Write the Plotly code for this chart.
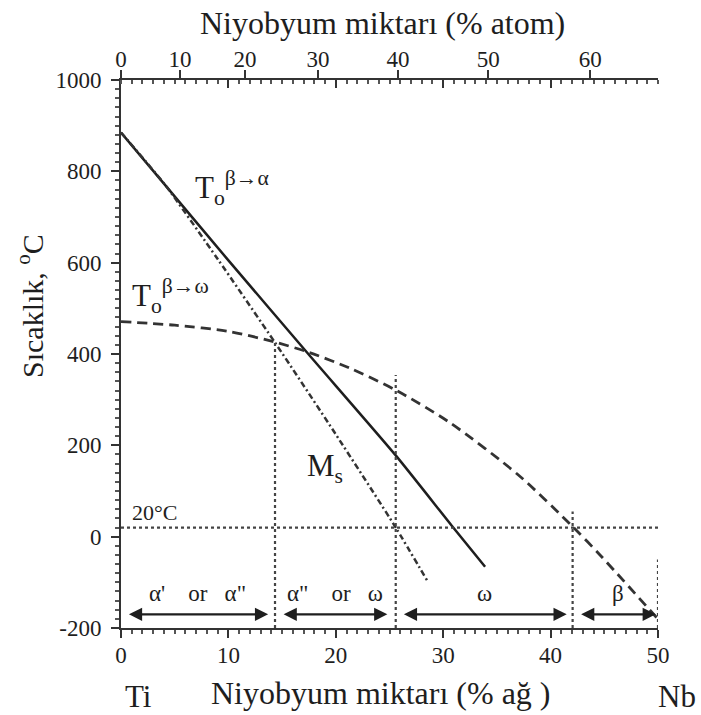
import plotly.graph_objects as go

# ---------------- data (wt% Nb on x, temperature °C on y) ----------------
solid_x = [0, 4.25, 10, 17.44, 25.58, 30.8, 33.9]          # T0 beta->alpha
solid_y = [885, 766, 605, 400, 178, 24, -66]

ms_x = [0, 2, 4.25, 9, 14.34, 20, 25.58, 28.6]                 # Ms
ms_y = [885, 830, 766, 608, 425, 224, 20, -100]

omega_x = [0, 5, 10.15, 14.34, 17.44, 21.3, 25.58, 30.6, 37, 42.05, 44.6, 49.9]   # T0 beta->omega
omega_y = [471, 463, 449, 426, 404, 369, 321, 250, 135, 22, -40, -178]

boundary_x = [14.34, 25.58, 42.05]
boundary_top = [425, 354, 55]
room_temp = 20

region_start = [0.6, 15.0, 26.2, 42.7]
region_end = [13.7, 24.8, 41.5, 49.8]
region_labels = ["α'&nbsp;&nbsp;&nbsp; or &nbsp;&nbsp;α\"", "α\"&nbsp;&nbsp;&nbsp; or &nbsp;&nbsp;ω", "ω", "β"]
arrow_T = -170

wt_ticks = [0, 10, 20, 30, 40, 50]
wt_tick_text = ["0", "10", "20", "30", "40", "50"]
atom_tick_pos = [0, 5.49, 11.55, 18.34, 25.8, 34.2, 43.7]
atom_tick_text = ["0", "10", "20", "30", "40", "50", "60"]
temp_ticks = [-200, 0, 200, 400, 600, 800, 1000]
temp_tick_text = ["-200", "0", "200", "400", "600", "800", "1000"]

# ---------------- layout geometry ----------------
W, H = 701, 715
L, R, T, B = 121, 43, 80, 87
pw, ph = W - L - R, H - T - B
def pxx(x):
    return (x - L) / pw
def pyy(y):
    return (H - B - y) / ph

INK = "#1e1e1e"
FONT = "Liberation Serif, Times New Roman, serif"

fig = go.Figure()

fig.add_trace(go.Scatter(x=solid_x, y=solid_y, mode="lines",
                         line=dict(color=INK, width=2.5, shape="spline", smoothing=0.6)))
fig.add_trace(go.Scatter(x=ms_x, y=ms_y, mode="lines",
                         line=dict(color="#333", width=2.5, dash="6px,3px,2px,3px",
                                   shape="spline", smoothing=0.6)))
fig.add_trace(go.Scatter(x=omega_x, y=omega_y, mode="lines",
                         line=dict(color="#333", width=2.8, dash="10px,6px",
                                   shape="spline", smoothing=0.8)))

# dotted boundaries
for bx, bt in zip(boundary_x, boundary_top):
    fig.add_trace(go.Scatter(x=[bx, bx], y=[-200, bt], mode="lines",
                             line=dict(color="#444", width=2.2, dash="dot")))
fig.add_trace(go.Scatter(x=[0, 50], y=[room_temp, room_temp], mode="lines",
                         line=dict(color="#444", width=2.2, dash="dot")))
# short right edge
fig.add_trace(go.Scatter(x=[50, 50], y=[-200, -50], mode="lines",
                         line=dict(color="#444", width=2.2, dash="dot")))

# invisible traces to activate top axes
fig.add_trace(go.Scatter(x=[0, 50], y=[0, 0], xaxis="x2", mode="lines",
                         line=dict(width=0), hoverinfo="skip", opacity=0))
fig.add_trace(go.Scatter(x=[0, 50], y=[0, 0], xaxis="x3", mode="lines",
                         line=dict(width=0), hoverinfo="skip", opacity=0))

def txt(x, y, text, size, ref="data", angle=0, xanchor="center"):
    d = dict(x=x, y=y, text=text, showarrow=False, xanchor=xanchor, yanchor="middle",
             font=dict(family=FONT, size=size, color=INK), textangle=angle)
    if ref == "data":
        d.update(xref="x", yref="y")
    else:
        d.update(xref="paper", yref="paper")
    return d

ann = []
# double arrows and their labels
for s, e, lab in zip(region_start, region_end, region_labels):
    ann.append(dict(x=e, y=arrow_T, ax=s, ay=arrow_T, xref="x", yref="y",
                    axref="x", ayref="y", text="", showarrow=True,
                    arrowhead=2, startarrowhead=2, arrowside="end+start",
                    arrowsize=1.2, startarrowsize=1.2, arrowwidth=2.2, arrowcolor=INK))
    ann.append(txt((s + e) / 2, -125, lab, 23))

ann += [
    txt(6.7, 763, "T<sub>o</sub><sup>β→α</sup>", 31, xanchor="left"),
    txt(0.8, 527, "T<sub>o</sub><sup>β→ω</sup>", 31, xanchor="left"),
    txt(17.1, 150, "M<sub>s</sub>", 31, xanchor="left"),
    txt(0.8, 52, "20°C", 22, xanchor="left"),
    txt(pxx(382), pyy(23), "Niyobyum miktarı (% atom)", 32, ref="paper"),
    txt(pxx(380), pyy(693), "Niyobyum miktarı (% ağ )", 32, ref="paper"),
    txt(pxx(138), pyy(696), "Ti", 31, ref="paper"),
    txt(pxx(677), pyy(696), "Nb", 31, ref="paper"),
    txt(pxx(30), pyy(306), "Sıcaklık, <sup>o</sup>C", 30, ref="paper", angle=-90),
]

tickfont = dict(family=FONT, size=23, color=INK)
axis_common = dict(showgrid=False, zeroline=False, showline=True,
                   linecolor="#333", linewidth=2, tickcolor="#333")

fig.update_layout(
    width=W, height=H, margin=dict(l=L, r=R, t=T, b=B, autoexpand=False),
    plot_bgcolor="white", paper_bgcolor="white", showlegend=False,
    font=dict(family=FONT, color=INK, size=23),
    xaxis=dict(range=[0, 50], tickmode="array", tickvals=wt_ticks, ticktext=wt_tick_text,
               ticks="outside", ticklen=8, tickwidth=2, tickfont=tickfont,
               ticklabelstandoff=-3,
               minor=dict(ticks="outside", dtick=1, ticklen=4, tickcolor="#555"),
               **axis_common),
    xaxis2=dict(range=[0, 50], overlaying="x", side="top", tickmode="array",
                tickvals=atom_tick_pos, ticktext=atom_tick_text, tickfont=tickfont,
                ticks="outside", ticklen=8, tickwidth=2, ticklabelstandoff=-6,
                minor=dict(ticks="inside", tickvals=list(range(0, 51)), ticklen=4,
                           tickcolor="#555"),
                **axis_common),
    xaxis3=dict(range=[0, 50], overlaying="x", side="top", tickmode="array",
                tickvals=[10, 20, 30, 40], showticklabels=False,
                ticks="inside", ticklen=8, tickwidth=2, showgrid=False,
                zeroline=False, showline=False, tickcolor="#333"),
    yaxis=dict(range=[-200, 1000], tickmode="array", tickvals=temp_ticks,
               ticktext=temp_tick_text, tickfont=tickfont,
               ticks="outside", ticklen=8, tickwidth=2, ticklabelstandoff=5,
               minor=dict(ticks="outside", dtick=20, ticklen=4, tickcolor="#555"),
               **axis_common),
    annotations=ann,
)

fig.write_html("out.html")
